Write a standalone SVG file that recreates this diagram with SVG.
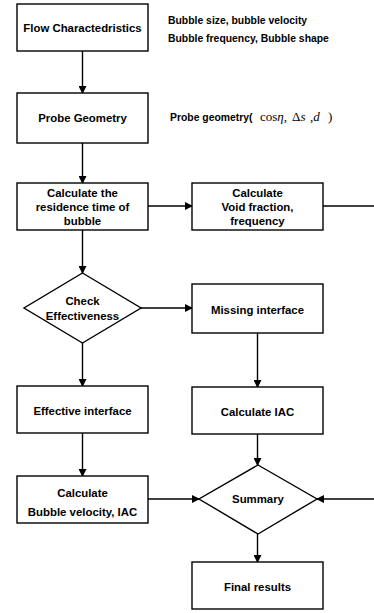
<svg xmlns="http://www.w3.org/2000/svg" width="374" height="613" viewBox="0 0 374 613">
<defs>
<marker id="ah" markerWidth="8" markerHeight="8" refX="7" refY="4" orient="auto" markerUnits="userSpaceOnUse">
<path d="M0,0 L8,4 L0,8 Z" fill="#000"/>
</marker>
<style>
.n{fill:#fff;stroke:#000;stroke-width:1.4}
.t{font-family:"Liberation Sans",Arial,sans-serif;font-weight:bold;font-size:11.4px;text-anchor:middle;fill:#000}
.s{font-family:"Liberation Sans",Arial,sans-serif;font-weight:bold;font-size:10.4px;fill:#000}
.m{font-family:"Liberation Serif","Times New Roman",serif;font-size:13px;fill:#000}
.c{fill:none;stroke:#000;stroke-width:1.4}
</style>
</defs>
<rect width="374" height="613" fill="#fff"/>
<g id="connectors">
<line class="c" x1="82.5" y1="51" x2="82.5" y2="93" marker-end="url(#ah)"/>
<line class="c" x1="82.5" y1="143" x2="82.5" y2="183" marker-end="url(#ah)"/>
<line class="c" x1="148" y1="206" x2="192" y2="206" marker-end="url(#ah)"/>
<line class="c" x1="323" y1="206" x2="374" y2="206"/>
<line class="c" x1="82.5" y1="230" x2="82.5" y2="273" marker-end="url(#ah)"/>
<line class="c" x1="141" y1="308" x2="192" y2="308" marker-end="url(#ah)"/>
<line class="c" x1="82.5" y1="343" x2="82.5" y2="386" marker-end="url(#ah)"/>
<line class="c" x1="257.5" y1="333" x2="257.5" y2="387" marker-end="url(#ah)"/>
<line class="c" x1="82.5" y1="433" x2="82.5" y2="476" marker-end="url(#ah)"/>
<line class="c" x1="257.5" y1="434" x2="257.5" y2="465" marker-end="url(#ah)"/>
<line class="c" x1="148" y1="499" x2="199" y2="499" marker-end="url(#ah)"/>
<line class="c" x1="374" y1="499" x2="317" y2="499" marker-end="url(#ah)"/>
<line class="c" x1="257.5" y1="534" x2="257.5" y2="562" marker-end="url(#ah)"/>
</g>
<g id="flow">
<rect class="n" x="17" y="4" width="131" height="47"/>
<text class="t" x="82.5" y="32">Flow Charactedristics</text>
</g>
<g id="bubble-params">
<text class="s" x="168" y="24">Bubble size, bubble velocity</text>
<text class="s" x="168" y="42">Bubble frequency,  Bubble shape</text>
</g>
<g id="probe">
<rect class="n" x="17" y="93" width="131" height="50"/>
<text class="t" x="82.5" y="122">Probe Geometry</text>
</g>
<g id="probe-params">
<text class="s" x="170" y="121">Probe geometry(</text>
<text class="m" x="260" y="121">cos<tspan font-style="italic">η</tspan>,</text>
<text class="m" x="292" y="121">Δ<tspan font-style="italic">s</tspan></text>
<text class="m" x="310" y="121">,<tspan font-style="italic">d</tspan></text>
<text class="m" x="328" y="121">)</text>
</g>
<g id="residence">
<rect class="n" x="17" y="183" width="131" height="47"/>
<text class="t" x="82.5" y="197">Calculate the</text>
<text class="t" x="82.5" y="211">residence time of</text>
<text class="t" x="82.5" y="225">bubble</text>
</g>
<g id="void">
<rect class="n" x="192" y="183" width="131" height="47"/>
<text class="t" x="257.5" y="197">Calculate</text>
<text class="t" x="257.5" y="211">Void fraction,</text>
<text class="t" x="257.5" y="225">frequency</text>
</g>
<g id="check">
<polygon class="n" points="82.5,273 141,308 82.5,343 24,308"/>
<text class="t" x="82.5" y="305">Check</text>
<text class="t" x="82.5" y="320">Effectiveness</text>
</g>
<g id="missing">
<rect class="n" x="192" y="284" width="131" height="49"/>
<text class="t" x="257.5" y="314">Missing interface</text>
</g>
<g id="effective">
<rect class="n" x="17" y="386" width="131" height="47"/>
<text class="t" x="82.5" y="415">Effective interface</text>
</g>
<g id="calc-iac">
<rect class="n" x="192" y="387" width="131" height="47"/>
<text class="t" x="257.5" y="416">Calculate IAC</text>
</g>
<g id="calc-bubble">
<rect class="n" x="17" y="476" width="131" height="47"/>
<text class="t" x="82.5" y="497">Calculate</text>
<text class="t" x="82.5" y="516">Bubble velocity, IAC</text>
</g>
<g id="summary">
<polygon class="n" points="258,465 317,499 258,534 199,499"/>
<text class="t" x="258" y="503">Summary</text>
</g>
<g id="final">
<rect class="n" x="192" y="562" width="131" height="47"/>
<text class="t" x="257.5" y="591">Final results</text>
</g>
</svg>
